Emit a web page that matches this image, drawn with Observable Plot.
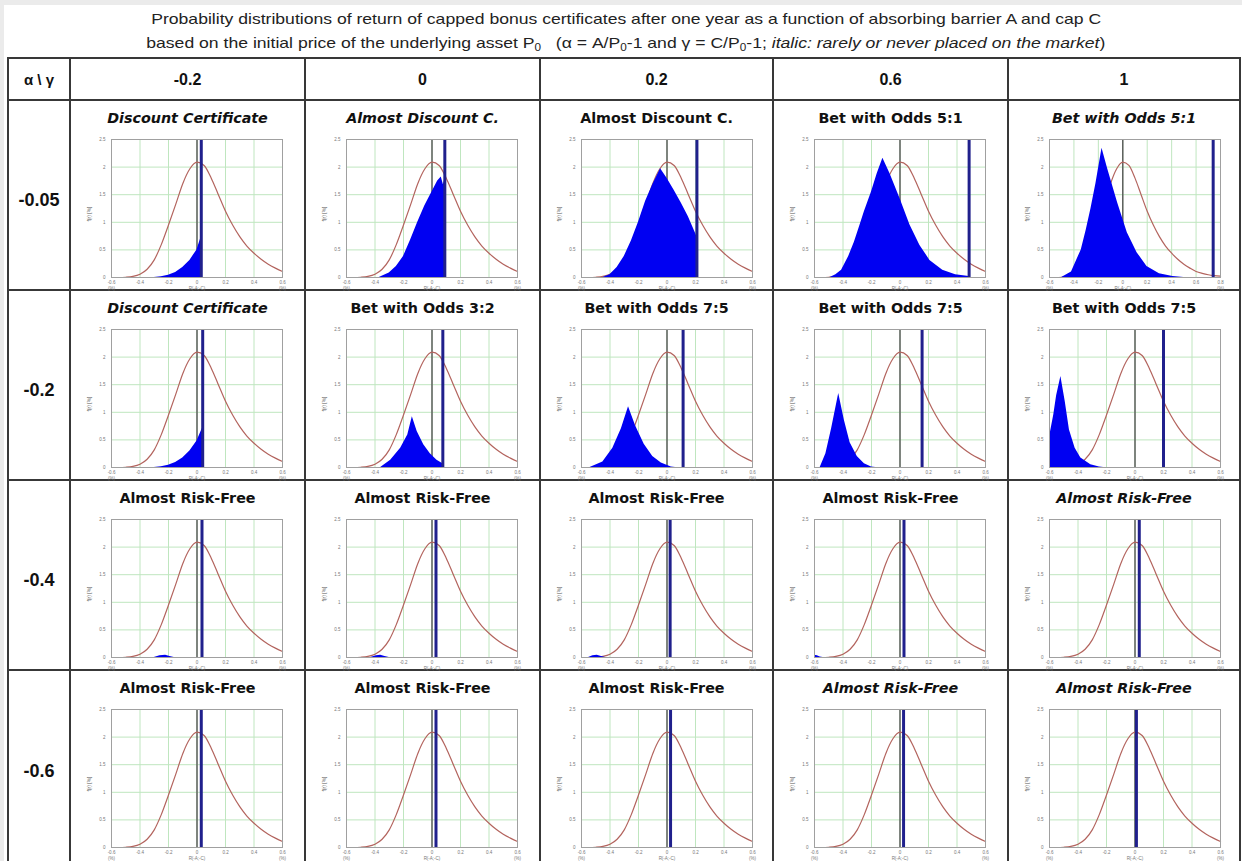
<!DOCTYPE html>
<html><head><meta charset="utf-8">
<script src="https://cdn.jsdelivr.net/npm/d3@7"></script>
<script src="https://cdn.jsdelivr.net/npm/@observablehq/plot@0.6"></script>
<style>
html,body{margin:0;padding:0;background:#ebebeb;width:1242px;height:861px;overflow:hidden;position:relative;}
#page{position:absolute;left:4px;top:5px;width:1238px;height:856px;background:#fff;}
.hl,.vl{position:absolute;background:#383838;}
.txt{position:absolute;white-space:nowrap;font-family:"Liberation Sans",Arial,sans-serif;color:#111;}
.head{position:absolute;white-space:nowrap;font-family:"Liberation Sans",Arial,sans-serif;font-size:15px;color:#222;transform-origin:center center;}
.head sub{font-size:10px;vertical-align:-3px;line-height:0;}
.cell{position:absolute;}
.ctitle{position:absolute;white-space:nowrap;font-family:"DejaVu Sans",sans-serif;font-weight:700;font-size:14.3px;color:#111;text-align:center;}
.cell svg{overflow:visible;}
</style></head><body><div id="page"></div>
<script>
// ---- data ----
const gammaValues = ["-0.2", "0", "0.2", "0.6", "1"];
const alphaValues = ["-0.05", "-0.2", "-0.4", "-0.6"];
const certificateTypes = [
  ["Discount Certificate", "Almost Discount C.", "Almost Discount C.", "Bet with Odds 5:1", "Bet with Odds 5:1"],
  ["Discount Certificate", "Bet with Odds 3:2", "Bet with Odds 7:5", "Bet with Odds 7:5", "Bet with Odds 7:5"],
  ["Almost Risk-Free", "Almost Risk-Free", "Almost Risk-Free", "Almost Risk-Free", "Almost Risk-Free"],
  ["Almost Risk-Free", "Almost Risk-Free", "Almost Risk-Free", "Almost Risk-Free", "Almost Risk-Free"]
];
const rarelyPlaced = [
  [true, true, false, false, true],
  [true, false, false, false, false],
  [false, false, false, false, true],
  [false, false, false, true, true]
];
const xAxisMax = [
  [0.6, 0.6, 0.6, 0.6, 0.8],
  [0.6, 0.6, 0.6, 0.6, 0.6],
  [0.6, 0.6, 0.6, 0.6, 0.6],
  [0.6, 0.6, 0.6, 0.6, 0.6]
];
const xTickValues = [-0.6, -0.4, -0.2, 0, 0.2, 0.4, 0.6, 0.8];
const yTickValues = [0, 0.5, 1, 1.5, 2, 2.5];
// underlying asset return distribution (red curve)
const returnGrid = [-0.6, -0.55, -0.5, -0.45, -0.4, -0.35, -0.3, -0.25, -0.2, -0.15, -0.1, -0.05, 0, 0.05, 0.1, 0.15, 0.2, 0.25, 0.3, 0.35, 0.4, 0.45, 0.5, 0.55, 0.6, 0.65, 0.7, 0.75, 0.8];
const underlyingDensity = [0, 0, 0.005, 0.02, 0.06, 0.15, 0.32, 0.6, 0.95, 1.32, 1.7, 1.97, 2.09, 2.03, 1.8, 1.5, 1.2, 0.95, 0.74, 0.57, 0.44, 0.33, 0.24, 0.17, 0.11, 0.075, 0.05, 0.035, 0.025];
// cap return (blue vertical line)
const capReturn = [
  [0.03, 0.09, 0.21, 0.485, 0.74],
  [0.04, 0.076, 0.113, 0.155, 0.2],
  [0.035, 0.028, 0.022, 0.028, 0.03],
  [0.03, 0.028, 0.025, 0.025, 0.01]
];
// certificate return distribution (blue area): [return, density]
const certificateDensity = [
  [
    [[-0.3,0],[-0.25,0.015],[-0.2,0.04],[-0.15,0.09],[-0.1,0.18],[-0.05,0.31],[0,0.5],[0.03,0.74],[0.03,0]],
    [[-0.37,0],[-0.3,0.08],[-0.25,0.2],[-0.2,0.38],[-0.15,0.68],[-0.1,1.0],[-0.05,1.3],[0,1.55],[0.04,1.75],[0.065,1.82],[0.08,1.68],[0.09,1.78],[0.09,0]],
    [[-0.45,0],[-0.4,0.05],[-0.35,0.18],[-0.3,0.38],[-0.25,0.66],[-0.2,1.0],[-0.15,1.38],[-0.1,1.68],[-0.045,1.97],[0,1.8],[0.05,1.58],[0.1,1.35],[0.15,1.1],[0.2,0.8],[0.21,0.74],[0.21,0]],
    [[-0.49,0],[-0.45,0.05],[-0.41,0.13],[-0.36,0.38],[-0.32,0.64],[-0.28,0.95],[-0.25,1.19],[-0.2,1.55],[-0.16,1.88],[-0.12,2.16],[-0.07,1.88],[0,1.43],[0.07,0.95],[0.14,0.58],[0.21,0.31],[0.3,0.13],[0.39,0.05],[0.485,0.02],[0.485,0]],
    [[-0.5,0],[-0.42,0.1],[-0.34,0.5],[-0.3,0.85],[-0.26,1.25],[-0.22,1.7],[-0.17,2.34],[-0.124,1.97],[-0.043,1.36],[0.037,0.81],[0.117,0.45],[0.198,0.2],[0.3,0.07],[0.41,0.02],[0.5,0]]
  ],
  [
    [[-0.3,0],[-0.25,0.015],[-0.2,0.04],[-0.15,0.09],[-0.1,0.17],[-0.05,0.3],[0,0.48],[0.04,0.72],[0.04,0]],
    [[-0.36,0],[-0.29,0.13],[-0.22,0.35],[-0.17,0.59],[-0.138,0.92],[-0.104,0.65],[-0.058,0.41],[-0.012,0.25],[0.035,0.13],[0.076,0.07],[0.076,0]],
    [[-0.54,0],[-0.45,0.1],[-0.38,0.35],[-0.32,0.7],[-0.27,1.1],[-0.22,0.75],[-0.16,0.42],[-0.1,0.2],[-0.04,0.08],[0.03,0.01],[0.06,0]],
    [[-0.56,0],[-0.52,0.25],[-0.48,0.7],[-0.43,1.34],[-0.39,0.85],[-0.35,0.45],[-0.3,0.2],[-0.25,0.07],[-0.2,0.01],[-0.17,0]],
    [[-0.6,0],[-0.6,0.55],[-0.57,0.95],[-0.55,1.3],[-0.52,1.65],[-0.49,1.2],[-0.46,0.68],[-0.42,0.35],[-0.38,0.17],[-0.31,0.05],[-0.25,0.01],[-0.22,0]]
  ],
  [
    [[-0.3,0],[-0.26,0.03],[-0.22,0.04],[-0.19,0.02],[-0.16,0]],
    [[-0.43,0],[-0.39,0.03],[-0.36,0.04],[-0.33,0.02],[-0.3,0]],
    [[-0.55,0],[-0.52,0.03],[-0.49,0.04],[-0.46,0.02],[-0.43,0]],
    [[-0.6,0],[-0.6,0.04],[-0.58,0.03],[-0.56,0.01],[-0.54,0]],
    []
  ],
  [[], [], [], [], []]
];

// ---- layout ----
const colX = [8, 70, 305, 540, 773, 1008, 1240];
const rowY = [58, 100, 290, 480, 670, 862];
const body = document.body;
function add(cls, css, html) {
  const d = document.createElement("div");
  d.className = cls;
  Object.assign(d.style, css);
  if (html != null) d.innerHTML = html;
  body.appendChild(d);
  return d;
}
// headline
const h1 = add("head", {left: "0px", top: "10px"}, "Probability distributions of return of capped bonus certificates after one year as a function of absorbing barrier A and cap C");
const h2 = add("head", {left: "0px", top: "34px"}, "based on the initial price of the underlying asset P<sub>0</sub>&nbsp;&nbsp;&nbsp;(α = A/P<sub>0</sub>-1 and γ = C/P<sub>0</sub>-1; <i>italic: rarely or never placed on the market</i>)");
function fitHead(el, left, right) {
  const w = el.getBoundingClientRect().width;
  el.style.left = (left + right) / 2 - w / 2 + "px";
  el.style.transform = `scaleX(${(right - left) / w})`;
}
fitHead(h1, 151, 1101);
fitHead(h2, 146, 1105);

// table lines
for (const x of colX) add("vl", {left: x - 1 + "px", top: rowY[0] - 1 + "px", width: "2px", height: rowY[rowY.length - 1] - rowY[0] + 2 + "px"});
for (const y of rowY) add("hl", {left: colX[0] - 1 + "px", top: y - 1 + "px", width: colX[colX.length - 1] - colX[0] + 2 + "px", height: "2px"});

// header row
function centerText(text, cx, cy, css) {
  const d = add("txt", css, text);
  const r = d.getBoundingClientRect();
  d.style.left = cx - r.width / 2 + "px";
  d.style.top = cy - r.height / 2 + "px";
  return d;
}
centerText("α \\ γ", (colX[0] + colX[1]) / 2, (rowY[0] + rowY[1]) / 2, {fontSize: "15px", fontWeight: "700"});
gammaValues.forEach((g, c) => centerText(g, (colX[c + 1] + colX[c + 2]) / 2, (rowY[0] + rowY[1]) / 2 + 1, {fontSize: "16px", fontWeight: "700"}));
alphaValues.forEach((a, r) => centerText(a, (colX[0] + colX[1]) / 2, (rowY[r + 1] + rowY[r + 2]) / 2 + 5, {fontSize: "18px", fontWeight: "700"}));

const fmt = d => d === 0 ? "0" : String(d);
function cellPlot(r, c) {
  const xmax = xAxisMax[r][c];
  const ticks = xTickValues.filter(t => t <= xmax + 1e-9);
  const red = returnGrid.map((x, i) => ({x, y: underlyingDensity[i]})).filter(d => d.x <= xmax + 1e-9);
  const blue = certificateDensity[r][c].map(([x, y]) => ({x, y}));
  return Plot.plot({
    width: 230, height: 161,
    marginLeft: 39, marginRight: 20, marginTop: 9, marginBottom: 14,
    x: {domain: [-0.6, xmax], axis: null},
    y: {domain: [0, 2.5], axis: null},
    style: {background: "transparent", fontFamily: "Liberation Sans, Arial, sans-serif", overflow: "visible"},
    marks: [
      Plot.ruleX(ticks, {stroke: "#bfe6bf", strokeWidth: 1}),
      Plot.ruleY(yTickValues, {stroke: "#bfe6bf", strokeWidth: 1}),
      Plot.ruleX([0], {stroke: "#555", strokeWidth: 1.4}),
      Plot.line(red, {x: "x", y: "y", stroke: "#b3645e", strokeWidth: 1.2, curve: "monotone-x"}),
      Plot.areaY(blue, {x: "x", y: "y", fill: "#0000f2"}),
      Plot.ruleX([capReturn[r][c]], {stroke: "#20208c", strokeWidth: 3}),
      Plot.frame({stroke: "#a0a0a0"}),
      Plot.text(ticks, {x: d => d, y: 0, text: fmt, dy: 5, fontSize: 4.5, fill: "#777"}),
      Plot.text([-0.6, 0, xmax], {x: d => d, y: 0, text: d => d === 0 ? "R(-A;-C)" : "(%)", dy: 11, fontSize: 4.5, fill: "#777"}),
      Plot.text(yTickValues, {x: -0.6, y: d => d, text: fmt, dx: -6, textAnchor: "end", fontSize: 4.5, fill: "#777"}),
      Plot.text(["f(r) [%]"], {x: -0.6, y: 1.15, text: d => d, dx: -22, rotate: -90, fontSize: 5, fill: "#555"})
    ]
  });
}

for (let r = 0; r < 4; r++) {
  for (let c = 0; c < 5; c++) {
    const x0 = colX[c + 1], y0 = rowY[r + 1], x1 = colX[c + 2];
    add("ctitle", {left: x0 + "px", width: x1 - x0 + "px", top: y0 + 10 + "px", fontStyle: rarelyPlaced[r][c] ? "italic" : "normal"}, certificateTypes[r][c]);
    const cell = add("cell", {left: x0 + 2 + "px", top: y0 + 30 + "px"});
    cell.appendChild(cellPlot(r, c));
  }
}
</script></body></html>
